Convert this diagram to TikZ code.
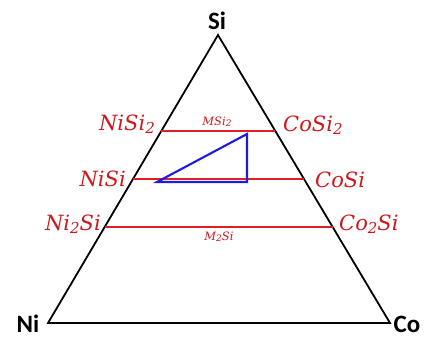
\documentclass[tikz,border=0pt]{standalone}
\usepackage{fontspec}
\newfontfamily\elemfont{Carlito}
\newfontfamily\phasefont{DejaVu Serif}
\usetikzlibrary{calc}
\definecolor{phasered}{RGB}{222,32,38}
\definecolor{labelred}{RGB}{205,25,30}
\definecolor{tieblue}{RGB}{28,28,225}
\newcommand{\sub}[1]{\raisebox{-0.35ex}{\fontsize{15}{17}\selectfont#1}}
\newcommand{\tsub}[1]{\raisebox{-0.3ex}{\fontsize{9}{10}\selectfont#1}}

\begin{document}
\begin{tikzpicture}[x=1pt, y=-1pt,
  edge/.style={draw=black, line width=1.8pt},
  phase/.style={draw=phasered, line width=2.1pt},
  tie/.style={draw=tieblue, line width=2.1pt},
  elem/.style={font=\elemfont\bfseries\fontsize{25}{28}\selectfont, inner sep=0pt, anchor=base},
  lbl/.style={text=labelred, font=\phasefont\itshape\fontsize{21}{25}\selectfont, inner sep=0pt},
  tiny/.style={text=labelred, font=\phasefont\itshape\fontsize{11.5}{13}\selectfont, inner sep=0pt, anchor=base}
]
\useasboundingbox (0,0) rectangle (428,340);
% corners of the triangle
\coordinate (ni) at (48,323);
\coordinate (co) at (390,323);
\coordinate (si) at (218,35);
\draw[edge] (ni) -- (si) -- (co) -- cycle;
\node[elem] (si-lbl) at (217,29) {Si};
\node[elem] (ni-lbl) at (28,332) {Ni};
\node[elem] (co-lbl) at (407,332) {Co};
% phase lines
\foreach \t/\n in {0.333/low, 0.5/mid, 0.667/high}{
  \coordinate (l-\n) at ($(ni)!\t!(si)$);
  \coordinate (r-\n) at ($(co)!\t!(si)$);
  \draw[phase] (l-\n) -- (r-\n);
}
\node[lbl, anchor=base east] (nisi2) at (155,130) {NiSi\sub{2}};
\node[lbl, anchor=base east] (nisi) at (126,186) {NiSi};
\node[lbl, anchor=base east] (ni2si) at (101,230) {Ni\sub{2}Si};
\node[lbl, anchor=base west] (cosi2) at (283,131) {CoSi\sub{2}};
\node[lbl, anchor=base west] (cosi) at (315,187) {CoSi};
\node[lbl, anchor=base west] (co2si) at (339,230) {Co\sub{2}Si};
\node[tiny] (msi2) at (217,125) {MSi\tsub{2}};
\node[tiny] (m2si) at (219,240) {M\tsub{2}Si};
% tie triangle
\coordinate (t-a) at (157,182);
\coordinate (t-b) at (247,182);
\coordinate (t-c) at (247,134);
\draw[tie] (t-a) -- (t-b) -- (t-c) -- cycle;
\end{tikzpicture}
\end{document}
